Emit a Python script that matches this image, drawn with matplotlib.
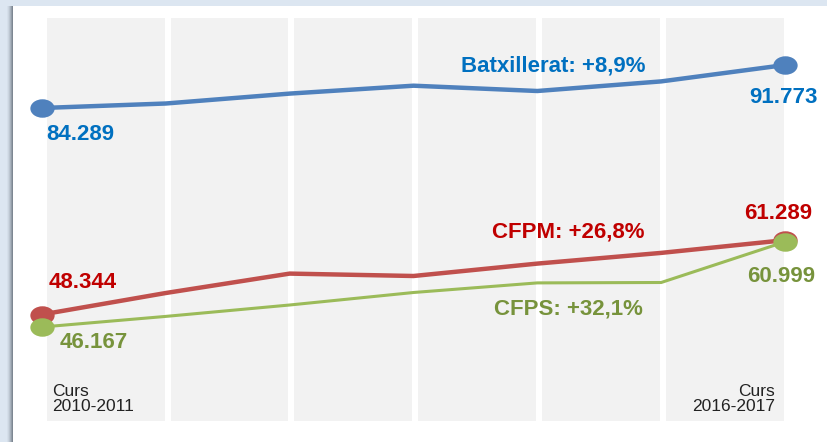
import matplotlib
matplotlib.use('Agg')
import matplotlib.pyplot as plt
from matplotlib.markers import MarkerStyle
from matplotlib.path import Path
from matplotlib.patches import Rectangle
from matplotlib.transforms import Affine2D

plt.rcParams['font.family'] = ['Liberation Sans', 'DejaVu Sans']

# Alumnes matriculats per curs
cursos = ['2010-2011', '2011-2012', '2012-2013', '2013-2014',
          '2014-2015', '2015-2016', '2016-2017']
batxillerat = [84289, 85072, 86796, 88171, 87248, 88919, 91773]
cfpm = [48344, 52087, 55464, 55047, 57205, 59068, 61289]
cfps = [46167, 48014, 49998, 52174, 53845, 53915, 60999]
noms = ['Batxillerat', 'CFPM', 'CFPS']


def punts(v):
    return f"{v:,}".replace(',', '.')


def creixement(serie):
    pct = (serie[-1] - serie[0]) / serie[0] * 100
    return f"+{pct:.1f}%".replace('.', ',')


fig = plt.figure(figsize=(8.28, 4.42), dpi=100)
fig.patch.set_facecolor('#dce6f1')

# panell blanc amb ombra a l'esquerra
W, H = 828, 442
for i, a in enumerate([0.05, 0.08, 0.12, 0.18, 0.26, 0.35]):
    fig.patches.append(Rectangle(((7 + i) / W, 0), 6 / W, 1 - 6 / H,
                                 transform=fig.transFigure,
                                 facecolor='#56606b', alpha=a, lw=0))
fig.patches.append(Rectangle((13 / W, 0), 1, 1 - 6 / H, transform=fig.transFigure,
                             facecolor='white', lw=0))

ax = fig.add_axes([0, 0, 1, 1])
ax.set_zorder(5)
ax.set_facecolor('none')
ax.axis('off')
ax.set_xlim(-0.339, 6.347)
ax.set_ylim(26151, 103088)

x = list(range(len(cursos)))

# franges grises entre cursos
for i in range(len(cursos) - 1):
    ax.axvspan(i + 0.038, i + 0.99, ymin=0.0475, ymax=0.959,
               facecolor='#f2f2f2', lw=0, zorder=0)

ellipse = MarkerStyle(Path.unit_circle().transformed(Affine2D().scale(1.0, 0.76)))

series = [
    (batxillerat, '#4f81bd', '#0070c0', 3.2),
    (cfpm, '#c0504d', '#c00000', 3.2),
    (cfps, '#9bbb59', '#77933c', 2.2),
]
for serie, c_linia, c_text, lw in series:
    ax.plot(x, serie, color=c_linia, lw=lw, marker=ellipse, markersize=17.5,
            markevery=[0, len(serie) - 1], markeredgewidth=0,
            solid_joinstyle='round', zorder=3)

font = dict(fontsize=16, fontweight='bold', va='baseline')

# valors inicials i finals
ax.annotate(punts(batxillerat[0]), (0, batxillerat[0]), xytext=(4, -32),
            textcoords='offset pixels', ha='left', color='#0070c0', **font)
ax.annotate(punts(cfpm[0]), (0, cfpm[0]), xytext=(7, 27),
            textcoords='offset pixels', ha='left', color='#c00000', **font)
ax.annotate(punts(cfps[0]), (0, cfps[0]), xytext=(18, -20.5),
            textcoords='offset pixels', ha='left', color='#77933c', **font)
ax.annotate(punts(batxillerat[-1]), (6, batxillerat[-1]), xytext=(33, -38),
            textcoords='offset pixels', ha='right', color='#0070c0', **font)
ax.annotate(punts(cfpm[-1]), (6, cfpm[-1]), xytext=(27, 21),
            textcoords='offset pixels', ha='right', color='#c00000', **font)
ax.annotate(punts(cfps[-1]), (6, cfps[-1]), xytext=(30, -40),
            textcoords='offset pixels', ha='right', color='#77933c', **font)

# etiquetes de creixement
ax.annotate(f"{noms[0]}: {creixement(batxillerat)}", (5, batxillerat[5]),
            xytext=(-16, 9.7), textcoords='offset pixels', ha='right',
            color='#0070c0', **font)
ax.annotate(f"{noms[1]}: {creixement(cfpm)}", (5, cfpm[5]),
            xytext=(-17, 15), textcoords='offset pixels', ha='right',
            color='#c00000', **font)
ax.annotate(f"{noms[2]}: {creixement(cfps)}", (5, cfps[5]),
            xytext=(-18, -32.5), textcoords='offset pixels', ha='right',
            color='#77933c', **font)

# cursos inicial i final
ax.text(0.08, 0.063, f"Curs\n{cursos[0]}", transform=ax.get_xaxis_transform(),
        ha='left', va='bottom', fontsize=12.5, color='#222222', linespacing=1.05)
ax.text(5.92, 0.063, f"Curs\n{cursos[-1]}", transform=ax.get_xaxis_transform(),
        ha='right', va='bottom', fontsize=12.5, color='#222222', linespacing=1.05,
        multialignment='right')

fig.savefig('out.png', dpi=100, facecolor=fig.get_facecolor())
